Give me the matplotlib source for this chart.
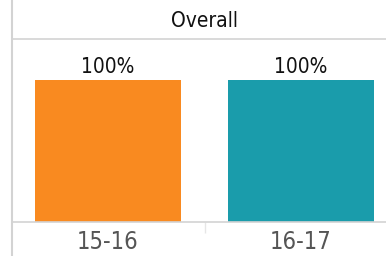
import matplotlib.pyplot as plt
from matplotlib.lines import Line2D

categories = ["15-16", "16-17"]
values = [100, 100]
value_labels = ["100%", "100%"]
title = "Overall"
colors = ["#F98A20", "#1A9CAB"]

plt.rcParams['font.family'] = ['DejaVu Sans']
plt.rcParams['font.stretch'] = 'condensed'

W, H = 386, 256
fig = plt.figure(figsize=(W / 100, H / 100), dpi=100)

# axes spans x 11..397 px, y 39..222 px (from top)
left = 11.5 / W
ax = fig.add_axes([left, (H - 222) / H, 386 / W, (222 - 39) / H])

x = range(len(categories))
ax.bar(x, values, width=0.756, color=colors)
ax.set_xlim(-0.5, 1.5)
ax.set_ylim(0, 100 * 183 / 142)

for i, (v, lab) in enumerate(zip(values, value_labels)):
    ax.annotate(lab, (i, v), xytext=(0, 2), textcoords="offset points",
                ha="center", va="bottom", fontsize=15, color="#111111",
                fontstretch="condensed")

grid = "#D3D3D3"
ax.spines["right"].set_visible(False)
ax.spines["left"].set_visible(False)
ax.spines["top"].set_color(grid)
ax.spines["bottom"].set_color(grid)
ax.spines["top"].set_linewidth(1.2)
ax.spines["bottom"].set_linewidth(1.2)
ax.set_yticks([])
ax.set_xticks([0.5], minor=True)
ax.tick_params(axis="x", which="minor", length=8, color="#E6E6E6", width=1)
ax.set_xticks(list(x))
ax.set_xticklabels(categories, fontsize=17, color="#555555",
                   fontstretch="condensed")
ax.tick_params(axis="x", which="major", length=0, pad=6)

# left border line running full height
fig.add_artist(Line2D([left, left], [0, 1], transform=fig.transFigure,
                      color=grid, lw=1.5))

fig.text(205 / W, 1 - 21 / H, title, ha="center", va="center",
         fontsize=15, color="#111111", fontstretch="condensed")

fig.savefig("out.png", dpi=100)
